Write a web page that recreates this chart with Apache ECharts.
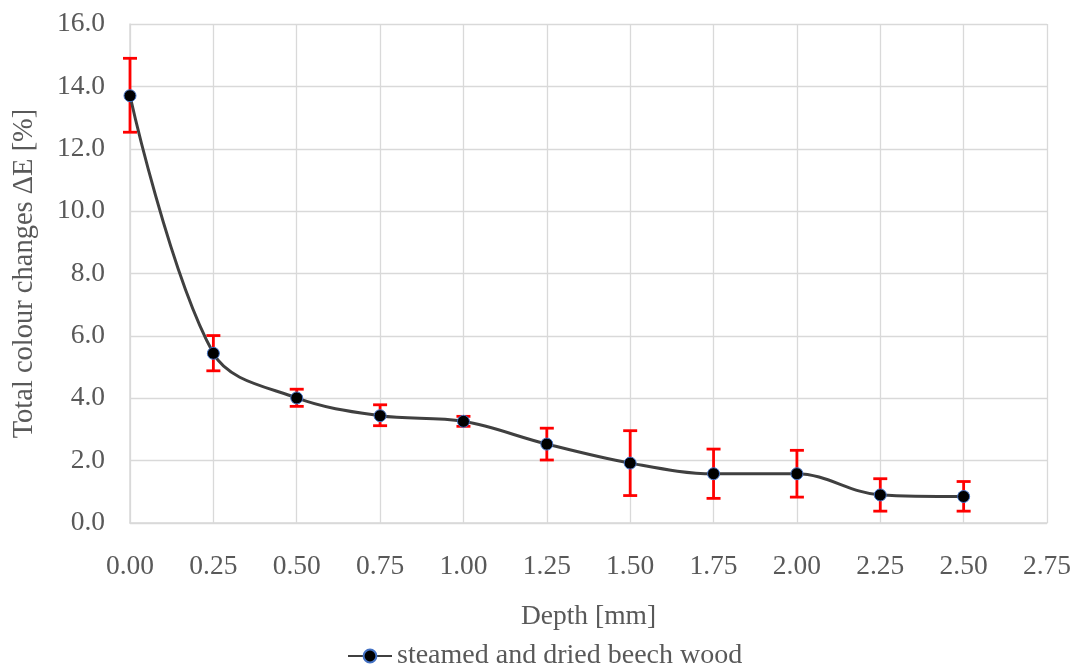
<!DOCTYPE html>
<html>
<head>
<meta charset="utf-8">
<script src="https://cdn.jsdelivr.net/npm/echarts@6/dist/echarts.min.js"></script>
<style>html,body{margin:0;padding:0;background:#fff}#c{width:1074px;height:666px}</style>
</head>
<body>
<div id="c"></div>
<script>
var depths = [0.00, 0.25, 0.50, 0.75, 1.00, 1.25, 1.50, 1.75, 2.00, 2.25, 2.50];
var deltaE = [13.70, 5.44, 4.01, 3.44, 3.26, 2.53, 1.92, 1.58, 1.58, 0.90, 0.85];
var errLow = [12.53, 4.88, 3.74, 3.12, 3.10, 2.02, 0.88, 0.79, 0.83, 0.38, 0.38];
var errHigh = [14.90, 6.01, 4.29, 3.79, 3.42, 3.04, 2.96, 2.37, 2.33, 1.42, 1.33];
var seriesName = 'steamed and dried beech wood';
var xTitle = 'Depth [mm]';
var yTitle = 'Total colour changes \u0394E [%]';

var font = 'Liberation Serif';
var textColor = '#595959';
var fs = 27.5;
var chart = echarts.init(document.getElementById('c'));
var errData = depths.map(function (d, i) { return [d, errLow[i], errHigh[i]]; });
var lineData = depths.map(function (d, i) { return [d, deltaE[i]]; });

chart.setOption({
  animation: false,
  grid: { left: 130, right: 27, top: 24, bottom: 143, outerBoundsMode: 'none', containLabel: false },
  legend: {
    top: 637, left: 342,
    itemWidth: 44, itemHeight: 16, itemGap: 10,
    textStyle: { fontFamily: font, fontSize: 28, color: textColor },
    data: [seriesName]
  },
  xAxis: {
    type: 'value', min: 0, max: 2.75, interval: 0.25,
    name: xTitle, nameLocation: 'middle', nameGap: 80,
    nameTextStyle: { fontFamily: font, fontSize: fs, color: textColor },
    axisLine: { show: true, lineStyle: { color: '#d9d9d9', width: 1.5 } },
    axisTick: { show: false },
    axisLabel: { margin: 30, fontFamily: font, fontSize: fs, color: textColor,
      formatter: function (v) { return v.toFixed(2); } },
    splitLine: { show: true, lineStyle: { color: '#d9d9d9', width: 1.3 } }
  },
  yAxis: {
    type: 'value', min: 0, max: 16, interval: 2,
    name: yTitle, nameLocation: 'middle', nameGap: 91, nameRotate: 90,
    nameTextStyle: { fontFamily: font, fontSize: 28.5, color: textColor },
    axisLine: { show: true, lineStyle: { color: '#d9d9d9', width: 1.5 } },
    axisTick: { show: false },
    axisLabel: { margin: 25, fontFamily: font, fontSize: fs, color: textColor,
      formatter: function (v) { return v.toFixed(1); } },
    splitLine: { show: true, lineStyle: { color: '#d9d9d9', width: 1.3 } }
  },
  series: [
    {
      name: seriesName,
      type: 'line',
      data: lineData,
      smooth: 0.35,
      symbol: 'circle',
      symbolSize: 12,
      z: 3,
      lineStyle: { color: '#404040', width: 3 },
      itemStyle: { color: '#000000', borderColor: '#4472C4', borderWidth: 1 }
    },
    {
      name: 'error',
      type: 'custom',
      z: 2,
      data: errData,
      renderItem: function (params, api) {
        var x = api.value(0);
        var lo = api.coord([x, api.value(1)]);
        var hi = api.coord([x, api.value(2)]);
        var hw = 7;
        var st = { stroke: '#ff0000', lineWidth: 2.8, fill: null };
        return {
          type: 'group',
          children: [
            { type: 'line', shape: { x1: lo[0], y1: lo[1], x2: hi[0], y2: hi[1] }, style: st },
            { type: 'line', shape: { x1: lo[0] - hw, y1: lo[1], x2: lo[0] + hw, y2: lo[1] }, style: st },
            { type: 'line', shape: { x1: hi[0] - hw, y1: hi[1], x2: hi[0] + hw, y2: hi[1] }, style: st }
          ]
        };
      }
    }
  ]
});
</script>
</body>
</html>
